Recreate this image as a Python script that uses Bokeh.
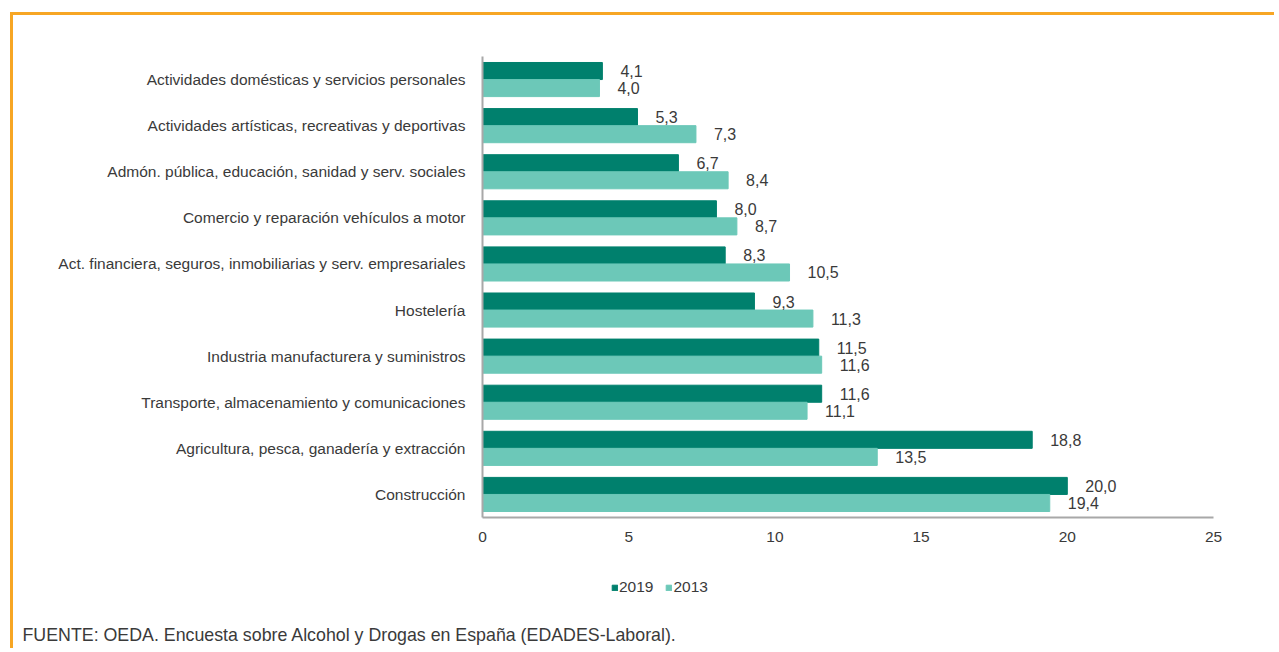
from bokeh.plotting import figure
from bokeh.models import ColumnDataSource, FactorRange, Legend, LegendItem, Label
from bokeh.transform import dodge
from bokeh.core.properties import value
from bokeh.embed import file_html
from bokeh.resources import INLINE

categories = [
    "Actividades domésticas y servicios personales",
    "Actividades artísticas, recreativas y deportivas",
    "Admón. pública, educación, sanidad y serv. sociales",
    "Comercio y reparación vehículos a motor",
    "Act. financiera, seguros, inmobiliarias y serv. empresariales",
    "Hostelería",
    "Industria manufacturera y suministros",
    "Transporte, almacenamiento y comunicaciones",
    "Agricultura, pesca, ganadería y extracción",
    "Construcción",
]
values_2019 = [4.1, 5.3, 6.7, 8.0, 8.3, 9.3, 11.5, 11.6, 18.8, 20.0]
values_2013 = [4.0, 7.3, 8.4, 8.7, 10.5, 11.3, 11.6, 11.1, 13.5, 19.4]
series_names = ["2019", "2013"]
x_ticks = [0, 5, 10, 15, 20, 25]
source_note = "FUENTE: OEDA. Encuesta sobre Alcohol y Drogas en España (EDADES-Laboral)."

FONT = "Liberation Sans"
TEXT_COLOR = "#3a3a3a"
DARK = "#00806d"
LIGHT = "#6cc8b8"
ORANGE = "#f7a624"

def fmt(v):
    return f"{v:.1f}".replace(".", ",")

src = ColumnDataSource(dict(
    cat=categories,
    v19=values_2019,
    v13=values_2013,
    l19=[fmt(v) for v in values_2019],
    l13=[fmt(v) for v in values_2013],
))

# ---------------- main chart ----------------
W, H1, H2 = 1264, 545, 91
p = figure(
    width=W, height=H1,
    y_range=FactorRange(*list(reversed(categories))),
    x_range=(0, 25),
    output_backend="svg", toolbar_location=None,
    min_border_left=469, min_border_right=W - 469 - 731,
    min_border_top=41, min_border_bottom=H1 - 41 - 461,
)
p.outline_line_color = None
p.xgrid.grid_line_color = None
p.ygrid.grid_line_color = None
p.background_fill_color = "white"
p.border_fill_color = "white"

bh = 0.37
p.hbar(y=dodge("cat", bh / 2, range=p.y_range), right="v19", left=0, height=bh,
       source=src, fill_color=DARK, line_color=DARK)
p.hbar(y=dodge("cat", -bh / 2, range=p.y_range), right="v13", left=0, height=bh,
       source=src, fill_color=LIGHT, line_color=LIGHT)

p.text(x="v19", y=dodge("cat", bh / 2, range=p.y_range), text="l19", source=src,
       x_offset=18, text_align="left", text_baseline="middle",
       text_font=value(FONT), text_font_size="16px", text_color=TEXT_COLOR)
p.text(x="v13", y=dodge("cat", -bh / 2, range=p.y_range), text="l13", source=src,
       x_offset=18, text_align="left", text_baseline="middle",
       text_font=value(FONT), text_font_size="16px", text_color=TEXT_COLOR)

for ax in (p.xaxis[0], p.yaxis[0]):
    ax.axis_line_color = "#a8a8a8"
    ax.axis_line_width = 2
    ax.major_tick_line_color = None
    ax.minor_tick_line_color = None
    ax.major_label_text_font = FONT
    ax.major_label_text_color = TEXT_COLOR
p.xaxis.major_label_text_font_size = "15.5px"
p.yaxis.major_label_text_font_size = "15.5px"
p.xaxis.ticker = x_ticks
p.xaxis.major_label_standoff = 8
p.yaxis.major_label_standoff = 11

p.styles = {"margin-left": "10px", "margin-top": "12px",
            "border-top": f"3px solid {ORANGE}", "border-left": f"3px solid {ORANGE}"}

# ---------------- legend + source note ----------------
q = figure(
    width=W, height=H2, x_range=(0, 1), y_range=(0, 1),
    output_backend="svg", toolbar_location=None,
    min_border_left=0, min_border_right=0, min_border_top=0, min_border_bottom=0,
    x_axis_type=None, y_axis_type=None,
)
q.outline_line_color = None
q.xgrid.grid_line_color = None
q.ygrid.grid_line_color = None
q.border_fill_color = "white"
q.background_fill_color = "white"

# legend-only swatch renderers (no drawable data)
swatch = ColumnDataSource(dict(y=[float("nan")], right=[float("nan")]))
s19 = q.hbar(y="y", right="right", height=0.1, source=swatch, fill_color=DARK, line_color=DARK)
s13 = q.hbar(y="y", right="right", height=0.1, source=swatch, fill_color=LIGHT, line_color=LIGHT)

legend = Legend(
    items=[LegendItem(label=series_names[0], renderers=[s19]),
           LegendItem(label=series_names[1], renderers=[s13])],
    orientation="horizontal",
    location=(598, 52),
    glyph_width=7, glyph_height=7, label_standoff=1, spacing=12, label_height=16,
    padding=0, margin=0, border_line_color=None, background_fill_alpha=0,
    label_text_font=FONT, label_text_font_size="15.5px", label_text_color=TEXT_COLOR,
)
q.add_layout(legend, "center")

q.add_layout(Label(x=9, y=14, x_units="screen", y_units="screen",
                   text=source_note, text_baseline="middle",
                   text_font=FONT, text_font_size="17.8px", text_color=TEXT_COLOR))

q.styles = {"margin-left": "10px", "border-left": f"3px solid {ORANGE}"}

open("out.html", "w").write(file_html([p, q], INLINE))
